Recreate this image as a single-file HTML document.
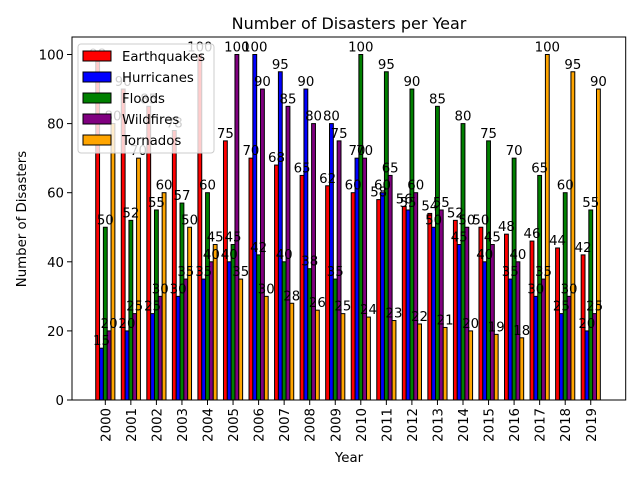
<!DOCTYPE html>
<html><head><meta charset="utf-8"><style>
body{margin:0;background:#fff}
svg{display:block;font-family:"DejaVu Sans","Liberation Sans",sans-serif}
</style></head><body>
<svg id="chart" width="640" height="480" viewBox="0 0 640 480" xmlns="http://www.w3.org/2000/svg">
<rect x="0" y="0" width="640" height="480" fill="#fff"/>
<text x="349" y="29" font-size="16" text-anchor="middle">Number of Disasters per Year</text>
<text x="349" y="462" font-size="13.3" text-anchor="middle">Year</text>
<text x="26" y="219" font-size="13.3" text-anchor="middle" transform="rotate(-90 26 219)">Number of Disasters</text>
<g id="bars"></g>
<g id="labels"></g>
<g id="axes"></g>
<g id="legend"></g>
</svg>
<script>
const years = [2000,2001,2002,2003,2004,2005,2006,2007,2008,2009,2010,2011,2012,2013,2014,2015,2016,2017,2018,2019];
const earthquakes = [98,90,85,78,100,75,70,68,65,62,60,58,56,54,52,50,48,46,44,42];
const hurricanes = [15,20,25,30,35,40,100,95,90,80,70,60,55,50,45,40,35,30,25,20];
const floods = [50,52,55,57,60,45,42,40,38,35,100,95,90,85,80,75,70,65,60,55];
const wildfires = [20,25,30,35,40,100,90,85,80,75,70,65,60,55,50,45,40,35,30,25];
const tornados = [80,70,60,50,45,35,30,28,26,25,24,23,22,21,20,19,18,100,95,90];
const seriesNames = ["Earthquakes","Hurricanes","Floods","Wildfires","Tornados"];
const yTicks = [0,20,40,60,80,100];

const NS = "http://www.w3.org/2000/svg";
const colors = ["red","blue","green","purple","orange"];
const allSeries = [earthquakes,hurricanes,floods,wildfires,tornados];
const L=72, R=625.7, T=37, B=400;
const x0=105.3, step=25.55, barW=0.15;
function xs(v){return x0+step*v;}
function ys(v){return B-3.455*v;}
function mk(tag,attrs,parent){const e=document.createElementNS(NS,tag);for(const k in attrs)e.setAttribute(k,attrs[k]);parent.appendChild(e);return e;}
const gb=document.getElementById('bars'), gl=document.getElementById('labels'), ga=document.getElementById('axes'), gleg=document.getElementById('legend');
allSeries.forEach((s,si)=>{
  s.forEach((v,i)=>{
    const c=i+(si-2)*barW;
    const xl=xs(c-barW/2), xr=xs(c+barW/2);
    const r=mk('rect',{x:xl,y:ys(v),width:xr-xl,height:B-ys(v),fill:colors[si],stroke:'#000','stroke-width':1},gb);
    
    
    const t=mk('text',{x:xs(c),y:ys(v)-3,'font-size':13.3,'text-anchor':'middle'},gl);
    t.textContent=v;
    
    
  });
});
const frame=mk('rect',{x:L,y:T,width:R-L,height:B-T,fill:'none',stroke:'#000','stroke-width':1},ga);


yTicks.forEach(v=>{
  mk('line',{x1:L-5,x2:L,y1:ys(v),y2:ys(v),stroke:'#000'},ga);
  const t=mk('text',{x:L-8,y:ys(v)+5,'font-size':13.3,'text-anchor':'end'},ga);
  t.textContent=v;
  
  
});
years.forEach((y,i)=>{
  mk('line',{x1:xs(i),x2:xs(i),y1:B,y2:B+5,stroke:'#000'},ga);
  const t=mk('text',{x:xs(i)+5,y:B+8,'font-size':13.3,'text-anchor':'end',transform:`rotate(-90 ${xs(i)+5} ${B+8})`},ga);
  t.textContent=y;
  
  
});
const lb=mk('rect',{x:78,y:44,width:136,height:109,rx:3,fill:'rgba(255,255,255,0.8)',stroke:'#ccc'},gleg);


seriesNames.forEach((n,i)=>{
  const yy=56+i*21;
  const p=mk('rect',{x:83,y:yy-5,width:28,height:10,fill:colors[i],stroke:'#000'},gleg);
  
  
  const t=mk('text',{x:122,y:yy+5,'font-size':13.3},gleg);
  t.textContent=n;
  
  
});
</script>
</body></html>
